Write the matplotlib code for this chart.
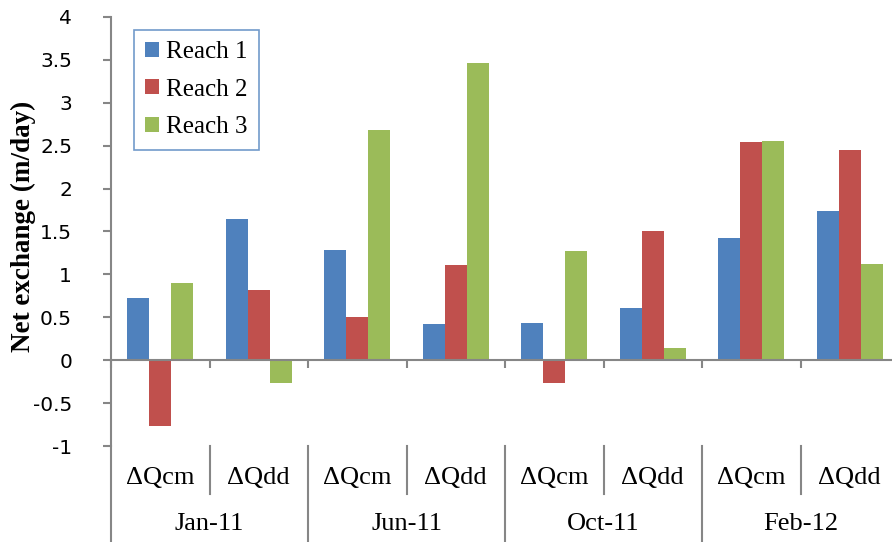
#!/usr/bin/env python
# -*- coding: utf-8 -*-

import matplotlib
matplotlib.use('Agg')
import matplotlib.pyplot as plt
from matplotlib.ticker import FuncFormatter
import numpy as np

# data
months = ['Jan-11', 'Jun-11', 'Oct-11', 'Feb-12']
methods = ['\u0394Qcm', '\u0394Qdd']
series = ['Reach 1', 'Reach 2', 'Reach 3']
reach1 = [0.72, 1.64, 1.28, 0.42, 0.43, 0.61, 1.43, 1.74]
reach2 = [-0.77, 0.82, 0.50, 1.11, -0.26, 1.50, 2.54, 2.45]
reach3 = [0.90, -0.27, 2.68, 3.46, 1.27, 0.14, 2.55, 1.12]
colors = ['#4F81BD', '#C0504D', '#9BBB59']
axis_col = '#868686'

W, H = 892, 542
fig = plt.figure(figsize=(W / 100, H / 100), dpi=100)
left, right, top, bottom = 111, 899, 17, 446
ax = fig.add_axes([left / W, 1 - bottom / H, (right - left) / W, (bottom - top) / H])

n = len(months) * len(methods)
x = np.arange(n)
bw = 0.225
for i, (vals, name) in enumerate(zip([reach1, reach2, reach3], series)):
    ax.bar(x + (i - 1) * bw, vals, bw, color=colors[i], label=name, zorder=2)

ax.set_xlim(-0.5, n - 0.5)
ax.set_ylim(-1, 4)
ax.set_yticks(np.arange(-1, 4.01, 0.5))
ax.yaxis.set_major_formatter(FuncFormatter(lambda v, p: '%g' % v))

for s in ['top', 'right']:
    ax.spines[s].set_visible(False)
ax.spines['bottom'].set_position(('data', 0))
for s in ['left', 'bottom']:
    ax.spines[s].set_color(axis_col)
    ax.spines[s].set_linewidth(1.5)
    ax.spines[s].set_zorder(3)

ax.set_xticks(np.arange(n + 1) - 0.5)
ax.set_xticklabels([])
ax.tick_params(axis='x', direction='out', length=6, width=1.5, color=axis_col)
ax.tick_params(axis='y', direction='out', length=6, width=1.5, color=axis_col,
               labelsize=14.5, pad=22)
for t in ax.get_yticklabels():
    t.set_fontfamily('DejaVu Sans')

serif = 'Liberation Serif'
fig.text(23 / W, 1 - 226 / H, 'Net exchange (m/day)', rotation=90,
         ha='center', va='center', fontfamily=serif, fontweight='bold', fontsize=19.5)

# multi-level category labels below the plot area
px = 1.0 / (bottom - top)  # one pixel in axes fraction
ax.plot([0, 0], [0, -(H - bottom) * px], transform=ax.transAxes,
        color=axis_col, lw=1.5, clip_on=False)
for k in range(n):
    xc = x[k]
    ax.text(xc, -32 * px, methods[k % 2], transform=ax.get_xaxis_transform(),
            ha='center', va='center', fontsize=19, fontfamily=serif)
    xb = xc + 0.5
    if k % 2 == 0:
        ax.plot([xb, xb], [0, -48 * px], transform=ax.get_xaxis_transform(),
                color=axis_col, lw=1.5, clip_on=False)
    else:
        ax.plot([xb, xb], [0, -(H - bottom) * px], transform=ax.get_xaxis_transform(),
                color=axis_col, lw=1.5, clip_on=False)
for g, m in enumerate(months):
    ax.text(2 * g + 0.5, -78 * px, m, transform=ax.get_xaxis_transform(),
            ha='center', va='center', fontsize=19, fontfamily=serif)

leg = ax.legend(loc='upper left', bbox_to_anchor=((134 - left) / (right - left), 1 - 13 * px),
                borderaxespad=0,
                prop={'family': serif, 'size': 18}, frameon=True, fancybox=False,
                handlelength=0.55, handleheight=0.55, handletextpad=0.3,
                borderpad=0.45, labelspacing=0.62)
leg.get_frame().set_edgecolor('#4F81BD')
leg.get_frame().set_linewidth(1.2)

fig.savefig('out.png', dpi=100)
